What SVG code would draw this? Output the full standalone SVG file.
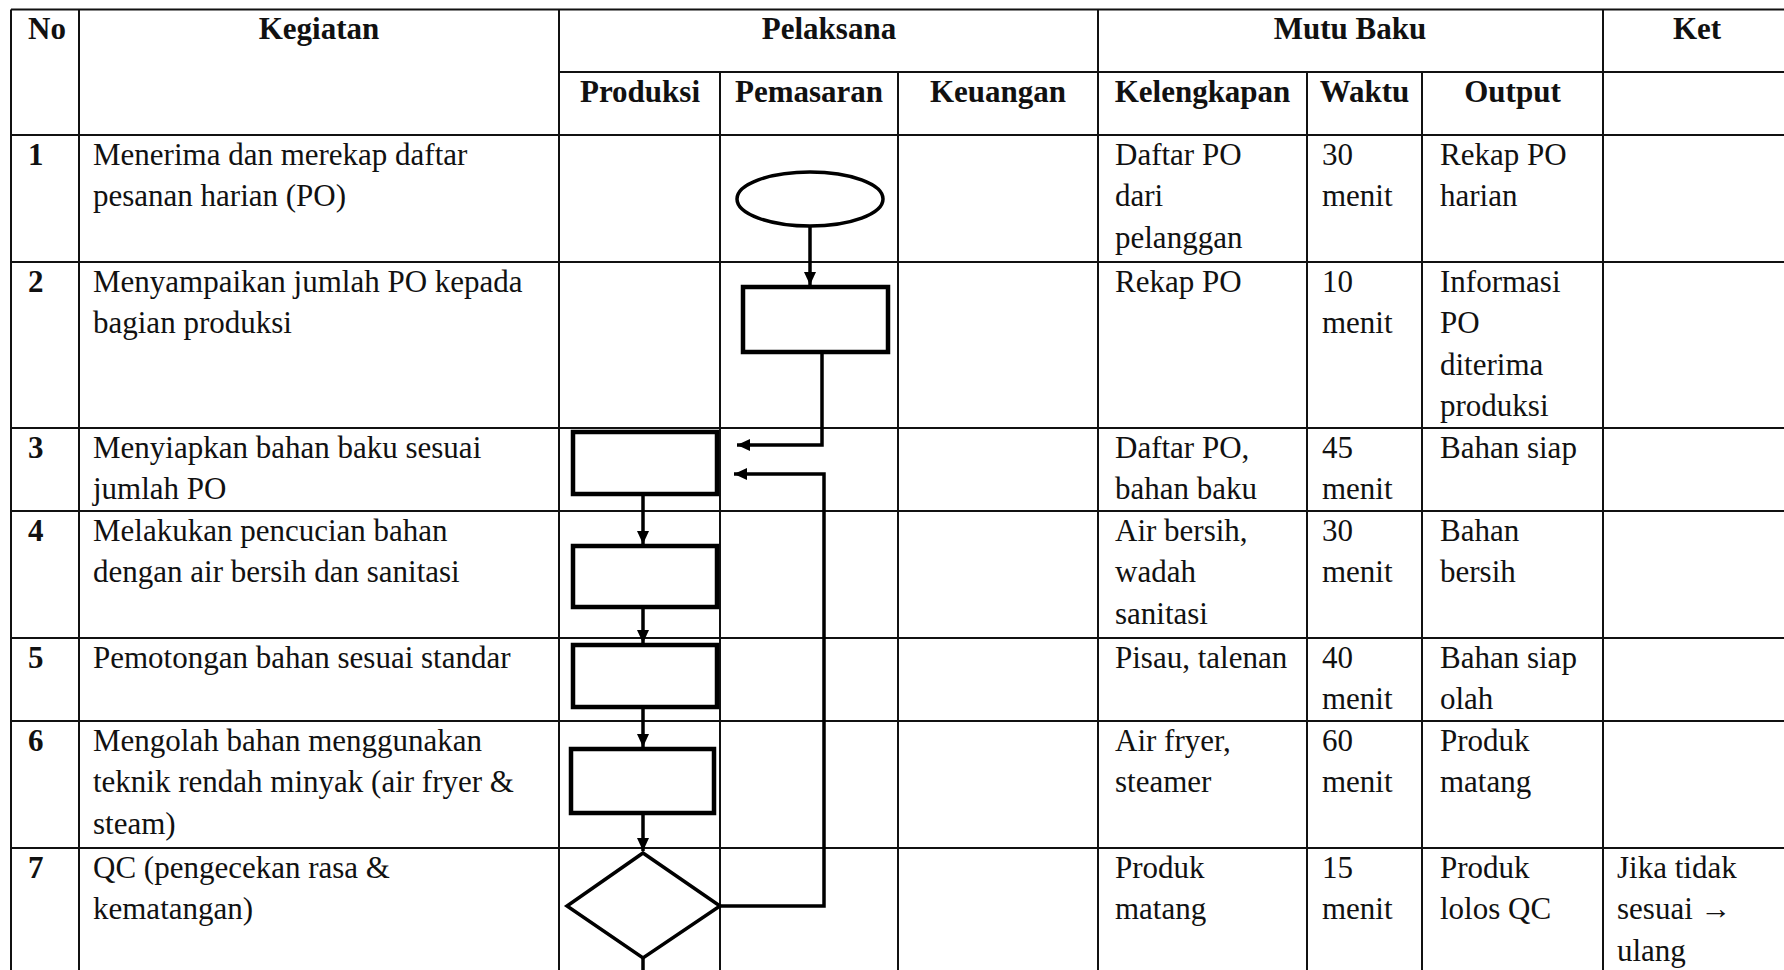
<svg xmlns="http://www.w3.org/2000/svg" width="1784" height="970" viewBox="0 0 1784 970">
<defs>
<marker id="ah" markerUnits="userSpaceOnUse" markerWidth="14" markerHeight="12" refX="13" refY="6" orient="auto">
<path d="M0,0 L13,6 L0,12 z" fill="#000"/>
</marker>
<style>
.t{font-family:"Liberation Serif","Times New Roman",serif;font-size:31px;fill:#111}
.b{font-weight:bold}
.c{text-anchor:middle}
.grid{stroke:#111;stroke-width:2;fill:none}
.shape{fill:#fff;stroke:#000;stroke-width:4.5}
.conn{fill:none;stroke:#000;stroke-width:3.5}
</style>
</defs>
<rect width="1784" height="970" fill="#fff"/>
<g id="table">
<path class="grid" d="M11,9.5H1791 M559,72H1791 M11,135H1791 M11,262H1791 M11,428H1791 M11,511H1791 M11,638H1791 M11,721H1791 M11,848H1791 M11,9.5V975 M79,9.5V975 M559,9.5V975 M720,72V975 M898,72V975 M1098,9.5V975 M1307,72V975 M1422,72V975 M1603,9.5V975"/>
</g>
<g id="header">
<text class="t b" x="28" y="39">No</text>
<text class="t b c" x="319" y="39">Kegiatan</text>
<text class="t b c" x="829" y="39">Pelaksana</text>
<text class="t b c" x="1350" y="39">Mutu Baku</text>
<text class="t b c" x="1697" y="39">Ket</text>
<text class="t b c" x="640" y="101.5">Produksi</text>
<text class="t b c" x="809" y="101.5">Pemasaran</text>
<text class="t b c" x="998" y="101.5">Keuangan</text>
<text class="t b c" x="1202.5" y="101.5">Kelengkapan</text>
<text class="t b c" x="1364.5" y="101.5">Waktu</text>
<text class="t b c" x="1512.5" y="101.5">Output</text>
</g>
<g id="row1">
<text class="t b" x="28" y="164.5">1</text>
<text class="t" x="93" y="164.5">Menerima dan merekap daftar<tspan x="93" dy="41.5">pesanan harian (PO)</tspan></text>
<text class="t" x="1115" y="164.5">Daftar PO<tspan x="1115" dy="41.5">dari</tspan><tspan x="1115" dy="41.5">pelanggan</tspan></text>
<text class="t" x="1322" y="164.5">30<tspan x="1322" dy="41.5">menit</tspan></text>
<text class="t" x="1440" y="164.5">Rekap PO<tspan x="1440" dy="41.5">harian</tspan></text>
</g>
<g id="row2">
<text class="t b" x="28" y="291.5">2</text>
<text class="t" x="93" y="291.5">Menyampaikan jumlah PO kepada<tspan x="93" dy="41.5">bagian produksi</tspan></text>
<text class="t" x="1115" y="291.5">Rekap PO</text>
<text class="t" x="1322" y="291.5">10<tspan x="1322" dy="41.5">menit</tspan></text>
<text class="t" x="1440" y="291.5">Informasi<tspan x="1440" dy="41.5">PO</tspan><tspan x="1440" dy="41.5">diterima</tspan><tspan x="1440" dy="41.5">produksi</tspan></text>
</g>
<g id="row3">
<text class="t b" x="28" y="457.5">3</text>
<text class="t" x="93" y="457.5">Menyiapkan bahan baku sesuai<tspan x="93" dy="41.5">jumlah PO</tspan></text>
<text class="t" x="1115" y="457.5">Daftar PO,<tspan x="1115" dy="41.5">bahan baku</tspan></text>
<text class="t" x="1322" y="457.5">45<tspan x="1322" dy="41.5">menit</tspan></text>
<text class="t" x="1440" y="457.5">Bahan siap</text>
</g>
<g id="row4">
<text class="t b" x="28" y="540.5">4</text>
<text class="t" x="93" y="540.5">Melakukan pencucian bahan<tspan x="93" dy="41.5">dengan air bersih dan sanitasi</tspan></text>
<text class="t" x="1115" y="540.5">Air bersih,<tspan x="1115" dy="41.5">wadah</tspan><tspan x="1115" dy="41.5">sanitasi</tspan></text>
<text class="t" x="1322" y="540.5">30<tspan x="1322" dy="41.5">menit</tspan></text>
<text class="t" x="1440" y="540.5">Bahan<tspan x="1440" dy="41.5">bersih</tspan></text>
</g>
<g id="row5">
<text class="t b" x="28" y="667.5">5</text>
<text class="t" x="93" y="667.5">Pemotongan bahan sesuai standar</text>
<text class="t" x="1115" y="667.5">Pisau, talenan</text>
<text class="t" x="1322" y="667.5">40<tspan x="1322" dy="41.5">menit</tspan></text>
<text class="t" x="1440" y="667.5">Bahan siap<tspan x="1440" dy="41.5">olah</tspan></text>
</g>
<g id="row6">
<text class="t b" x="28" y="750.5">6</text>
<text class="t" x="93" y="750.5">Mengolah bahan menggunakan<tspan x="93" dy="41.5">teknik rendah minyak (air fryer &amp;</tspan><tspan x="93" dy="41.5">steam)</tspan></text>
<text class="t" x="1115" y="750.5">Air fryer,<tspan x="1115" dy="41.5">steamer</tspan></text>
<text class="t" x="1322" y="750.5">60<tspan x="1322" dy="41.5">menit</tspan></text>
<text class="t" x="1440" y="750.5">Produk<tspan x="1440" dy="41.5">matang</tspan></text>
</g>
<g id="row7">
<text class="t b" x="28" y="877.5">7</text>
<text class="t" x="93" y="877.5">QC (pengecekan rasa &amp;<tspan x="93" dy="41.5">kematangan)</tspan></text>
<text class="t" x="1115" y="877.5">Produk<tspan x="1115" dy="41.5">matang</tspan></text>
<text class="t" x="1322" y="877.5">15<tspan x="1322" dy="41.5">menit</tspan></text>
<text class="t" x="1440" y="877.5">Produk<tspan x="1440" dy="41.5">lolos QC</tspan></text>
<text class="t" x="1617" y="877.5">Jika tidak<tspan x="1617" dy="41.5">sesuai →</tspan><tspan x="1617" dy="41.5">ulang</tspan></text>
</g>
<g id="connectors">
<path class="conn" marker-end="url(#ah)" d="M810,226 V285"/>
<path class="conn" marker-end="url(#ah)" d="M822,352 V445 H737"/>
<path class="conn" marker-end="url(#ah)" d="M643,494 V544"/>
<path class="conn" marker-end="url(#ah)" d="M643,607 V643"/>
<path class="conn" marker-end="url(#ah)" d="M643,707 V747"/>
<path class="conn" marker-end="url(#ah)" d="M643,813 V851"/>
<path class="conn" marker-end="url(#ah)" d="M720,906 H824 V474 H734"/>
<path class="conn" d="M643,958 V975"/>
</g>
<g id="start"><ellipse class="shape" style="stroke-width:3.5" cx="810" cy="199" rx="73" ry="27"/></g>
<g id="step2"><rect class="shape" x="743" y="287" width="145" height="65"/></g>
<g id="step3"><rect class="shape" x="573" y="432" width="144" height="62"/></g>
<g id="step4"><rect class="shape" x="573" y="546" width="144" height="61"/></g>
<g id="step5"><rect class="shape" x="573" y="645" width="144" height="62"/></g>
<g id="step6"><rect class="shape" x="571" y="749" width="143" height="64"/></g>
<g id="qc"><path class="shape" style="stroke-width:3.5" d="M643,853 L720,906 L643,958 L567,906 Z"/></g>
</svg>
